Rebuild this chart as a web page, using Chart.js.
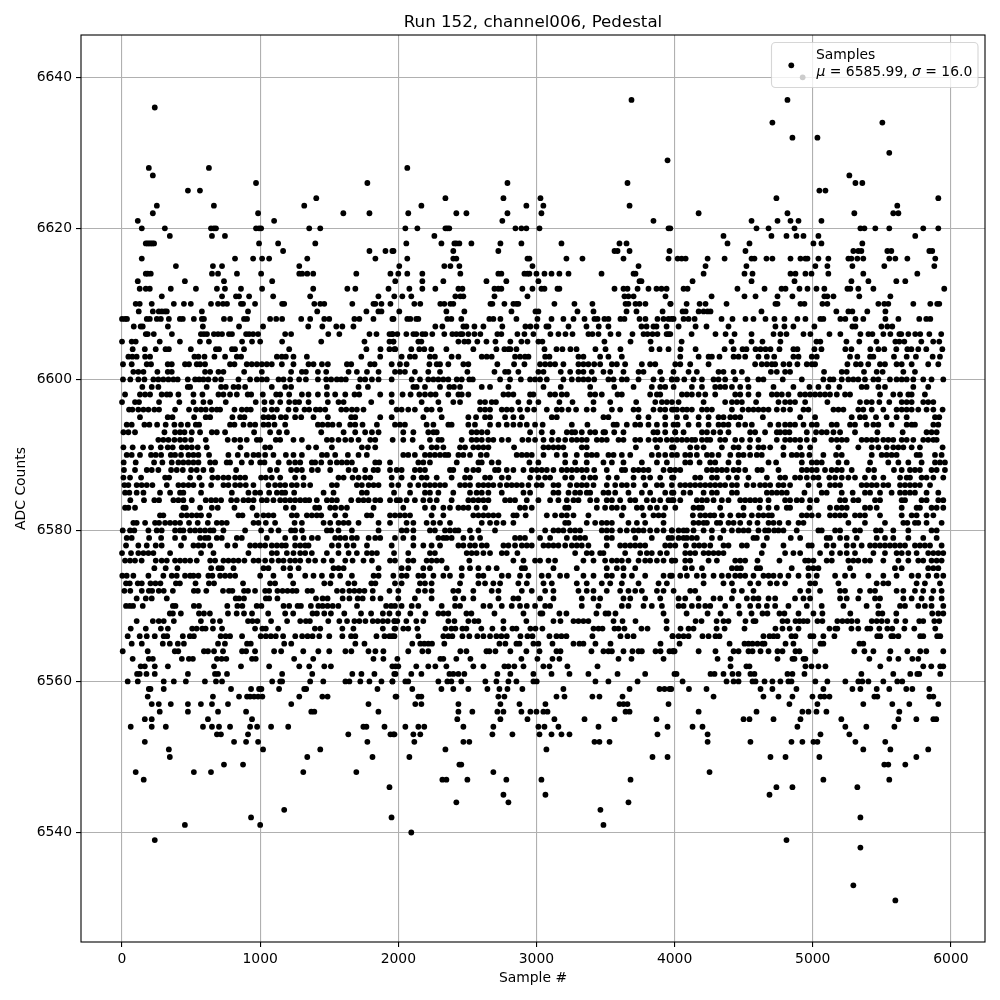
<!DOCTYPE html>
<html>
<head>
<meta charset="utf-8">
<title>Run 152, channel006, Pedestal</title>
<script src="https://cdn.jsdelivr.net/npm/chart.js@4"></script>
<style>
  html, body { margin: 0; padding: 0; background: #fff; }
  canvas { display: block; }
</style>
</head>
<body>
<canvas id="chart" width="1000" height="1000"></canvas>
<script>
const xTicks = [0, 1000, 2000, 3000, 4000, 5000, 6000];
const yTicks = [6540, 6560, 6580, 6600, 6620, 6640];

// each row of samples below belongs to the adc level at the same position
const adcLevels = [
  6640, 6637, 6636, 6634, 6632, 6630, 6629, 6628, 6627, 6626, 6625, 6624, 6623, 6622, 6621, 6620,
  6619, 6618, 6617, 6616, 6615, 6614, 6613, 6612, 6611, 6610, 6609, 6608, 6607, 6606, 6605, 6604,
  6603, 6602, 6601, 6600, 6599, 6598, 6597, 6596, 6595, 6594, 6593, 6592, 6591, 6590, 6589, 6588,
  6587, 6586, 6585, 6584, 6583, 6582, 6581, 6580, 6579, 6578, 6577, 6576, 6575, 6574, 6573, 6572,
  6571, 6570, 6569, 6568, 6567, 6566, 6565, 6564, 6563, 6562, 6561, 6560, 6559, 6558, 6557, 6556,
  6555, 6554, 6553, 6552, 6551, 6550, 6549, 6548, 6547, 6546, 6545, 6544, 6543, 6542, 6541, 6540,
  6539, 6538, 6533, 6531
];

const samplesAtLevel = [
  [4927],
  [3688,4817],
  [237],
  [4708,5504],
  [4853,5034],
  [5554],
  [3949],
  [194,629,2065],
  [223,5265],
  [970,1776,2790,3659,5309,5359],
  [477,564,5048,5092],
  [1406,2341,2761,3029,4737,5909],
  [252,665,1319,2167,2927,3050,3674,5612],
  [223,985,1602,1791,2072,2420,2493,2790,3036,4174,4817,5301,5583,5620],
  [114,1101,2753,3847,4557,4745,4839,4897,5063],
  [143,310,644,665,680,970,992,1007,1355,1435,2051,2138,2341,2355,2369,2848,2891,2927,3022,3956,3969,4593,4680,4868,5345,5374,5453,5554,5800,5909],
  [346,651,745,2261,4354,4701,4810,4882,4933,5041,5742],
  [172,184,196,208,220,232,992,1130,1399,2058,2312,2406,2420,2442,2529,2739,2891,3181,3601,3652,4383,4542,5005,5063,5359],
  [1166,1791,1907,1957,1965,2398,2724,3565,3587,3674,3963,4513,5294,5330,5352,5540,5569,5844,5865],
  [143,818,949,1014,1065,1341,1834,2065,2398,2420,2935,2949,3217,3333,3630,3956,4022,4051,4080,4239,4362,4557,4578,4665,4708,4839,4911,4947,4962,5041,5113,5258,5280,5323,5366,5554,5598,5685,5887],
  [390,658,724,1283,2007,2333,2377,2442,2971,3739,4224,4520,5019,5106,5287,5518,5880],
  [172,186,208,651,695,832,1007,1283,1304,1341,1384,1696,1943,2000,2065,2174,2449,2724,2746,2913,2935,2949,3000,3058,3109,3166,3232,3471,3703,3717,4210,4506,4564,4839,4875,4947,4991,5113,5366,5757],
  [114,455,738,1087,1978,2174,2326,2638,2782,3014,3746,3760,4130,4557,4868,5280,5403,5605,5670],
  [128,172,201,353,535,687,745,861,1014,1384,1631,1689,1929,2080,2174,2268,2435,2464,2696,2724,2746,2898,2971,3036,3058,3152,3166,3565,3630,3659,3732,3811,3869,3905,3942,4065,4094,4455,4651,4774,4803,4904,4962,5027,5084,5251,5272,5330,5439,5952],
  [288,724,825,847,920,1094,1362,1856,1971,2029,2094,2413,2449,2471,2696,2935,3637,3666,3703,3934,4268,4506,4586,4745,4853,5084,5106,5150,5337,5562],
  [99,128,215,375,448,498,644,695,731,760,861,876,963,1159,1174,1392,1435,1464,1667,1820,1834,1878,1943,2116,2159,2304,2333,2377,2398,2667,2681,2768,2833,2855,2869,3130,3275,3405,3645,3666,3717,3746,3789,3971,3969,4087,4181,4224,4376,4730,4745,4911,4940,5070,5106,5475,5518,5547,5728,5851,5901,5916],
  [121,223,266,288,310,324,578,912,1413,1769,1856,1878,2007,2348,2478,2819,2993,3014,3297,3413,3652,3724,3913,4058,4080,4174,4210,4239,4260,4629,5171,5258,5287,5395,5526],
  [0,22,36,179,201,252,281,339,419,440,520,578,593,738,782,883,905,1072,1116,1159,1297,1362,1464,1500,1682,1718,1820,1965,1957,2065,2087,2130,2145,2355,2384,2456,2659,2688,2739,2855,3007,3109,3195,3268,3348,3420,3442,3492,3521,3608,3637,3746,3789,3876,3920,3956,3978,3993,4065,4101,4145,4340,4419,4513,4571,4658,4723,4795,4889,4947,5055,5077,5200,5236,5309,5366,5526,5620,5771,5822,5851],
  [85,135,150,332,585,847,1021,1348,1450,1551,1595,1675,2268,2319,2471,2493,2551,2616,2753,2920,2956,3000,3072,3087,3232,3362,3451,3521,3760,3797,3847,3869,3942,4029,4152,4231,4390,4730,4795,4860,5012,5287,5309,5497,5540,5576],
  [172,186,230,361,571,593,615,665,695,724,774,796,898,920,949,985,1181,1224,1493,1573,1791,1842,1936,1958,1957,1993,2058,2109,2130,2174,2196,2246,2333,2391,2420,2449,2464,2507,2551,2594,2717,2746,2862,2913,2978,3101,3159,3210,3261,3376,3405,3449,3536,3594,3695,3775,3804,3840,3876,3942,3956,3969,4123,4296,4369,4434,4557,4716,4766,4810,4933,4983,5121,5200,5345,5403,5432,5511,5562,5627,5641,5692,5742,5778,5844,5930],
  [0,70,99,273,419,564,629,869,941,1000,1159,1442,1755,1936,1965,1964,2145,2167,2435,2478,2507,2572,2638,2703,2811,2891,2935,3014,3043,3492,3681,3826,4051,4412,4557,4636,4766,5027,5055,5244,5337,5461,5598,5627,5663,5786,5872,5916],
  [77,165,244,315,339,498,680,702,796,818,883,1210,1769,1871,1936,1972,1978,2094,2152,2188,2239,2348,2543,2710,2768,2797,2811,2855,3058,3145,3188,3246,3290,3427,3500,3608,3833,3891,3956,4043,4152,4362,4427,4492,4520,4586,4622,4658,4694,4759,4860,4889,5012,5063,5236,5280,5417,5475,5518,5605,5685,5714,5764,5822,5938],
  [46,75,106,167,203,524,553,597,669,746,831,862,1121,1157,1186,1241,1338,1732,1869,2024,2084,2120,2229,2265,2386,2435,2604,2640,2676,2845,2881,2917,2942,3063,3094,3304,3340,3461,3521,3618,4041,4174,4246,4270,4325,4427,4463,4511,4607,4668,4721,4860,4897,4993,5029,5270,5323,5415,5439,5588,5680,5747,5868,5921],
  [7,70,179,210,331,360,456,485,541,565,601,782,814,903,939,976,1012,1048,1084,1157,1241,1350,1386,1447,1490,1628,1659,1797,1828,1952,2012,2060,2225,2278,2302,2362,2471,2507,2717,2838,2913,3026,3063,3099,3135,3195,3304,3340,3376,3418,3461,3546,3582,3642,3763,3823,3860,4005,4041,4113,4246,4583,4631,4668,4704,4728,4788,4831,4889,4957,4993,5017,5251,5313,5347,5402,5487,5523,5607,5644,5716,5836,5909],
  [82,118,155,256,331,360,601,638,698,734,884,1012,1224,1302,1331,1418,1478,1640,1700,1773,1857,1976,2012,2048,2120,2217,2302,2500,2696,2773,2797,2869,3014,3051,3176,3244,3304,3340,3400,3485,3534,3630,3739,3775,3896,3992,4101,4161,4318,4354,4427,4487,4697,4740,4800,4836,5082,5210,5246,5371,5463,5506,5656,5740],
  [7,60,118,162,227,263,299,336,372,403,476,529,558,589,625,674,717,843,927,976,1012,1048,1133,1169,1217,1282,1331,1418,1478,1514,1555,1587,1620,1724,1760,1809,1857,1952,2097,2157,2217,2254,2290,2326,2362,2423,2459,2514,2539,2737,2809,2887,2954,2990,3026,3075,3195,3256,3304,3340,3376,3418,3521,3558,3618,3654,3739,3847,3908,3980,3981,4017,4070,4137,4198,4282,4318,4366,4439,4528,4607,4643,4783,4921,5077,5125,5150,5210,5258,5294,5330,5378,5439,5475,5559,5607,5644,5680,5728,5800,5860,5945],
  [147,215,263,476,493,613,717,751,807,843,891,1084,1181,1224,1483,1712,1780,2109,2133,2193,2302,2370,2403,2447,2604,2664,2797,3051,3176,3389,3563,3703,3835,3896,3932,3993,4125,4198,4294,4330,4366,4415,4475,4535,4716,4860,4976,5041,5113,5193,5354,5390,5475,5523,5728,5836],
  [22,130,167,203,287,324,348,408,517,582,698,734,782,831,910,935,1019,1116,1145,1210,1302,1350,1418,1483,1543,1616,1683,1717,1869,1952,2031,2089,2152,2193,2234,2270,2362,2435,2459,2507,2761,2797,2833,2954,2978,3099,3135,3183,3220,3389,3425,3473,3587,3618,3823,3872,3896,4053,4089,4125,4174,4222,4294,4439,4475,4535,4607,4704,4740,4776,4824,4909,4945,4981,5017,5053,5089,5125,5174,5234,5270,5487,5583,5632,5692,5716,5812],
  [0,94,123,268,415,517,589,638,751,968,1031,1084,1145,1210,1253,1282,1350,1490,1567,1604,1804,1952,2169,2290,2398,2447,2592,2628,2676,2707,2869,2949,3014,3166,3261,3413,3534,3722,3860,3908,3944,3981,4029,4210,4366,4415,4451,4487,4590,4752,4800,4836,4872,4945,5106,5342,5390,5427,5482,5554,5644,5680,5716,5800,5836,5873],
  [51,75,118,155,191,234,268,384,485,536,572,606,650,686,710,814,867,903,932,1031,1084,1121,1205,1258,1321,1355,1403,1434,1471,1587,1623,1664,1700,1748,1988,2024,2072,2120,2205,2241,2302,2592,2628,2664,2749,2785,2821,2881,2935,2983,3075,3147,3183,3232,3287,3364,3413,3546,3606,3703,3739,3847,3896,3932,3992,3981,4017,4058,4089,4125,4198,4234,4270,4415,4492,4535,4571,4607,4643,4680,4740,4788,4836,4933,4969,5150,5186,5222,5330,5366,5427,5511,5607,5644,5680,5716,5764,5824,5873,5940],
  [130,331,365,522,606,638,799,855,886,1024,1060,1096,1150,1186,1253,1297,1386,1490,1659,1688,1869,1952,2181,2314,2507,2563,2628,2664,2773,2833,2894,3111,3147,3485,3521,3739,3811,3932,4017,4082,4174,4246,4318,4354,4403,4439,4475,4639,4909,5017,5282,5342,5378,5458,5535,5607,5680,5885,5916],
  [34,70,162,198,254,316,379,427,476,534,558,782,814,879,927,964,1024,1060,1104,1181,1418,1451,1490,1524,1572,1652,1688,1741,1845,1976,2012,2048,2205,2254,2362,2386,2507,2555,2664,2725,2785,2833,2881,2930,2990,3045,3256,3369,3558,3582,3654,3715,3751,3811,3872,3932,3992,4022,4101,4174,4246,4318,4354,4390,4463,4511,4559,4692,4752,4800,4836,4872,4933,4993,5029,5137,5174,5270,5306,5390,5439,5475,5571,5680,5716,5740,5873,5909],
  [10,46,94,307,384,420,452,505,565,650,686,746,956,1072,1137,1193,1442,1604,1688,1760,1809,1857,2036,2109,2217,2254,2278,2531,2567,2604,2645,2954,3038,3116,3220,3256,3280,3328,3389,3425,3485,3497,3563,3630,3847,3876,3932,4004,4005,4065,4198,4234,4282,4330,4390,4547,4583,4655,4740,4764,4800,4831,4957,5024,5065,5101,5150,5198,5306,5468,5651,5824,5860,5897],
  [263,299,336,379,420,456,500,606,765,814,855,903,976,1000,1113,1145,1241,1302,1483,1519,1567,1616,1659,1712,1797,1833,1959,2036,2104,2229,2290,2314,2459,2531,2567,2604,2652,2688,2749,2797,2898,2942,2990,3051,3111,3159,3208,3256,3292,3328,3364,3437,3473,3509,3594,3630,3715,3751,3811,3860,3896,3944,3981,4017,4053,4089,4125,4149,4198,4234,4258,4330,4366,4439,4487,4547,4607,4740,4800,4836,4872,4909,4957,5012,5135,5174,5210,5246,5354,5390,5427,5463,5511,5547,5583,5644,5680,5728,5800,5836,5873,5897],
  [10,77,152,210,280,331,367,432,469,505,548,613,857,1036,1072,1350,1405,1519,1736,1780,1833,2169,2241,2278,2326,2447,2483,2543,2580,2616,2652,2838,3051,3087,3123,3159,3195,3328,3364,3720,3872,3980,3993,4113,4161,4210,4342,4427,4463,4542,4607,4643,4692,4788,4909,4981,5186,5330,5427,5475,5535,5583,5620,5656,5716,5776,5940],
  [34,70,130,210,244,283,353,384,427,481,517,553,630,770,838,903,952,988,1036,1096,1186,1241,1302,1447,1483,1543,1635,1712,1772,2036,2072,2120,2193,2229,2265,2302,2338,2362,2435,2471,2519,2597,2640,2857,2894,2930,2966,3051,3147,3208,3292,3364,3400,3437,3521,3558,3618,3679,3835,3884,3932,3981,4017,4077,4113,4161,4234,4270,4318,4403,4463,4499,4547,4595,4631,4788,4848,4884,4921,4976,5077,5169,5210,5427,5499,5535,5571,5607,5752,5776,5885,5933],
  [12,99,232,292,360,408,444,481,517,553,638,674,758,782,867,935,1000,1031,1133,1210,1253,1290,1374,1398,1442,1507,1555,1591,1628,1664,1833,1862,1940,2145,2181,2229,2423,2580,2604,2676,2725,2949,3014,3208,3280,3364,3485,3546,3630,3763,3872,3944,4077,4113,4181,4258,4294,4390,4463,4680,4735,4921,4993,5029,5065,5186,5246,5415,5547,5620,5692,5788,5885,5921,5957],
  [14,94,179,215,263,355,396,440,500,541,589,650,826,1072,1121,1224,1265,1302,1374,1418,1507,1640,1688,1760,1821,1852,1940,1988,2024,2120,2157,2193,2374,2398,2495,2543,2580,2700,2725,2785,2833,2906,2966,3002,3038,3075,3123,3183,3220,3256,3292,3328,3364,3418,3509,3618,3642,3703,3739,3775,3811,3920,3968,3969,4005,4041,4234,4270,4306,4342,4378,4427,4463,4511,4600,4631,4752,4921,4957,4993,5029,5089,5137,5174,5210,5282,5403,5444,5588,5644,5704,5740,5776,5860,5897,5957],
  [10,58,138,312,341,493,560,654,693,734,770,819,855,891,1007,1041,1084,1145,1253,1314,1567,1604,1669,1712,1760,1797,1952,2024,2109,2169,2205,2278,2386,2483,2519,2628,2664,2749,2797,2954,3014,3063,3099,3208,3256,3340,3389,3425,3521,3582,3703,3775,3823,3896,3992,3981,4149,4186,4270,4306,4390,4451,4535,4668,4764,4800,4872,4909,4957,5005,5041,5120,5162,5210,5258,5306,5378,5444,5511,5632,5680,5704,5788,5824,5873,5945],
  [17,46,106,142,179,220,324,408,444,481,517,577,645,734,770,819,855,896,951,1060,1108,1145,1181,1229,1265,1314,1362,1519,1555,1700,1736,1785,1821,1857,1952,2000,2085,2145,2193,2229,2265,2302,2338,2447,2483,2519,2580,2616,2652,2688,2737,2785,2821,2857,2894,2942,3002,3038,3123,3159,3244,3292,3328,3364,3413,3509,3570,3618,3654,3703,3787,3872,3908,3980,4041,4077,4113,4149,4186,4222,4258,4294,4330,4366,4415,4451,4523,4571,4619,4655,4692,4752,4788,4836,4969,5048,5125,5162,5198,5354,5390,5427,5463,5511,5547,5632,5668,5704,5740,5776,5849],
  [22,53,106,155,275,348,420,444,572,795,915,964,1000,1065,1121,1157,1181,1246,1459,1531,1736,1772,1969,2085,2193,2229,2290,2398,2519,2567,2604,2652,2749,2906,2954,3123,3159,3232,3280,3316,3364,3389,3485,3521,3570,3666,3763,3823,3932,3992,3981,4065,4113,4210,4270,4306,4415,4451,4668,4704,4740,4776,4812,4940,5065,5101,5210,5289,5378,5415,5487,5571,5632,5668,5704,5740,5824,5909],
  [60,159,234,268,372,408,444,505,606,645,679,717,790,831,879,915,952,1012,1048,1096,1145,1181,1217,1253,1290,1326,1355,1410,1483,1519,1555,1659,1712,1748,1785,1833,1869,1940,1988,2012,2060,2120,2181,2229,2278,2386,2507,2543,2580,2616,2652,2773,2809,2845,2930,3014,3099,3159,3220,3268,3304,3389,3437,3509,3546,3606,3679,3715,3799,3847,3896,3956,3992,3981,4041,4161,4198,4234,4282,4342,4390,4475,4511,4547,4583,4619,4680,4800,4836,4884,4921,4981,5029,5198,5234,5294,5330,5451,5487,5644,5668,5788,5824,5909,5945],
  [22,46,94,444,461,565,650,693,814,944,1186,1241,1398,1427,1507,1543,1587,1628,1821,2036,2193,2254,2326,2374,2435,2471,2507,2567,2628,2881,2917,2966,3208,3232,3437,3497,3546,3582,3630,3727,3763,3823,3872,3932,4005,4137,4174,4198,4330,4499,4615,4680,4740,4812,4836,4976,5125,5174,5210,5246,5378,5415,5463,5644,5752,5776,5860,5897,5945],
  [275,299,432,469,505,541,572,630,843,872,976,1024,1060,1096,1229,1265,1338,1374,1410,1442,1543,1616,1773,1804,1940,1976,2012,2048,2085,2241,2326,2543,2580,2616,2652,2688,2725,2833,2857,2922,3075,3135,3183,3220,3268,3376,3618,3775,3847,3884,3920,4132,4186,4222,4258,4287,4342,4403,4463,4499,4559,4607,4643,4680,4704,4921,4957,4993,5041,5125,5162,5198,5234,5306,5342,5378,5487,5644,5716,5752,5824,5873],
  [82,106,167,239,268,312,348,384,420,485,548,621,686,722,758,952,988,1041,1108,1249,1302,1459,1507,1567,1604,1640,1712,1857,1940,2060,2109,2205,2254,2302,2374,2604,2664,2712,2761,2833,3208,3232,3364,3425,3473,3509,3546,3666,3727,3787,3920,4137,4174,4210,4234,4306,4330,4390,4427,4475,4542,4600,4680,4716,4759,4824,4897,4933,5258,5378,5523,5656,5685,5740,5764,5824,5933],
  [5,58,89,191,251,287,384,420,444,493,529,565,601,638,662,734,891,1007,1079,1133,1224,1253,1302,1483,1514,1567,1664,1857,2024,2060,2109,2229,2265,2338,2374,2411,2435,2519,2580,2700,2966,3063,3123,3159,3195,3244,3280,3316,3473,3509,3546,3606,3654,3703,3739,3775,3823,3872,3920,3980,3981,4029,4065,4089,4137,4210,4270,4354,4415,4463,4499,4535,4607,4655,4680,4721,4752,4788,4884,5041,5065,5162,5198,5306,5342,5458,5492,5583,5692,5860,5897],
  [34,70,196,283,384,449,565,601,625,686,722,831,867,1048,1181,1253,1314,1374,1418,1543,1579,1616,1664,1700,1785,1833,1869,1976,2036,2109,2290,2326,2350,2386,2471,2531,2592,2845,2881,2917,3026,3099,3220,3280,3316,3352,3509,3546,3715,3835,3956,3981,4029,4065,4089,4125,4161,4270,4330,4571,4595,4668,4841,4909,5101,5125,5198,5246,5318,5463,5523,5583,5692,5800,5897],
  [29,118,179,244,287,427,517,553,589,638,763,819,927,964,1000,1036,1084,1121,1157,1186,1253,1290,1326,1350,1519,1567,1628,1676,1773,1952,2109,2181,2241,2302,2435,2471,2519,2555,2604,2640,2761,2797,2845,2894,2930,2966,3051,3087,3123,3159,3208,3256,3292,3328,3376,3509,3606,3642,3679,3715,3751,3787,3932,3968,4005,4082,4142,4178,4215,4258,4354,4390,4487,4523,4643,4788,4969,4993,5101,5150,5246,5294,5354,5415,5451,5487,5523,5559,5595,5632,5668,5740,5776,5812,5849,5933],
  [0,65,118,155,191,227,348,572,662,915,1084,1121,1193,1241,1290,1326,1374,1483,1567,1640,1700,1773,1809,1845,1969,2072,2229,2265,2495,2531,2567,2616,2664,2749,2785,2862,3280,3364,3400,3461,3485,3642,3751,3799,3835,3896,3944,4077,4113,4149,4210,4246,4282,4318,4354,4631,4800,4860,4909,5053,5138,5198,5246,5306,5439,5523,5607,5644,5692,5752,5836,5873,5909,5945],
  [22,58,94,142,244,287,324,384,420,456,493,541,638,674,734,770,807,843,886,952,988,1036,1084,1133,1169,1217,1253,1290,1350,1398,1459,1519,1616,1669,1748,1809,1940,1976,2072,2109,2205,2241,2278,2314,2514,2833,2906,2990,3026,3087,3135,3340,3413,3497,3546,3582,3618,3666,3739,3787,3823,3872,3920,3980,3981,4005,4077,4113,4246,4306,4439,4475,4511,4600,4759,4945,4969,5005,5101,5138,5258,5294,5330,5378,5415,5511,5620,5692,5764,5800,5860,5897,5933],
  [234,316,401,645,698,722,807,1024,1060,1169,1217,1278,1531,1567,1604,1857,2024,2072,2181,2229,2350,2459,2519,2580,2652,2712,2894,2917,3123,3292,3509,3582,3630,3715,4077,4125,4198,4415,4451,4480,4595,4619,4848,4969,5005,5041,5270,5595,5644,5836,5873,5909],
  [2,34,82,191,299,360,396,456,493,517,553,625,654,710,746,782,819,1000,1096,1217,1326,1386,1447,1519,1579,1664,1821,1857,1964,2024,2060,2145,2181,2254,2326,2374,2459,2580,2616,2749,2797,2881,2942,3038,3087,3171,3220,3340,3413,3509,3546,3630,3691,3787,3920,3968,3981,4041,4089,4161,4210,4282,4342,4390,4439,4475,4511,4571,4643,4680,4716,4764,4824,4897,4969,5029,5162,5234,5294,5403,5511,5607,5716,5764,5836,5897,5945],
  [29,56,114,143,206,242,278,390,419,532,629,666,876,1072,1108,1239,1464,1508,1638,1682,1805,1834,1976,2024,2157,2193,2241,2447,2580,2628,2688,2737,2869,2930,3051,3111,3292,3364,3473,3534,3618,3739,3884,3944,4210,4354,4415,4547,4607,4692,4740,4800,4981,5017,5186,5463,5511,5547,5752,5812,5921],
  [17,60,143,194,218,266,302,368,520,549,610,731,774,799,883,912,963,1036,1065,1125,1162,1198,1234,1263,1343,1375,1556,1597,1646,1682,1718,1755,1815,1936,2000,2145,2193,2241,2398,2435,2543,2676,2725,2894,2966,3063,3123,3304,3364,3413,3509,3606,3666,3715,3763,3872,3920,3993,4113,4149,4427,4487,4571,4909,4969,5053,5198,5234,5342,5415,5451,5607,5656,5740,5800,5873,5933],
  [106,172,215,324,823,847,883,1041,1065,1125,1404,1452,1488,1597,1646,1706,1742,1815,1871,2000,2120,2241,2411,2471,2543,2725,2833,2869,3026,3123,3328,3413,3461,3630,3679,3787,3896,4029,4077,4174,4282,4330,4415,4523,4571,4607,4680,4728,4872,4933,4981,5198,5246,5330,5451,5487,5656,5716,5788,5860,5933],
  [29,56,80,150,368,387,520,557,762,835,871,975,1009,1169,1210,1271,1295,1367,1421,1452,1488,1525,1566,1701,1912,1948,1976,2024,2097,2145,2314,2411,2447,2616,2664,2749,2821,2881,2930,2990,3063,3099,3328,3449,3618,3666,3775,3835,3908,4029,4065,4125,4174,4222,4258,4366,4463,4547,4607,4668,4728,4824,4957,5065,5222,5390,5475,5632,5668,5764,5812,5860,5945],
  [346,368,426,557,593,636,767,830,883,941,1058,1181,1239,1379,1411,1464,1512,1609,1730,1803,1888,1936,2000,2087,2196,2290,2326,2362,2493,2529,2696,2906,3029,3043,3166,3217,3434,3500,3521,3572,3920,4087,4239,4333,4470,4557,4636,4672,4759,4795,4897,5005,5070,5272,5475,5504,5605,5865,5909,5945],
  [106,223,266,302,375,571,658,709,912,944,980,1079,1195,1290,1331,1360,1493,1573,1629,1682,1718,1762,1815,1851,1888,1924,1972,1971,1993,2058,2130,2181,2362,2406,2507,2551,2580,2761,2927,3123,3174,3268,3304,3340,3376,3558,3623,3717,3942,4152,4195,4304,4354,4390,4513,4571,4586,4781,4817,4875,4904,4933,4962,5034,5070,5178,5215,5251,5282,5323,5427,5463,5499,5540,5605,5670,5771,5800,5880,5916],
  [63,172,281,332,508,540,581,605,658,724,963,1016,1041,1130,1396,1435,1595,1675,1888,1972,1978,2036,2072,2138,2341,2384,2413,2464,2493,2601,2681,2761,2826,2855,2956,2993,3043,3413,3449,3478,3565,3594,3637,3760,3804,3942,4043,4101,4137,4304,4362,4506,4730,4781,4833,4897,5121,5164,5178,5280,5330,5395,5417,5482,5540,5576,5663,5735,5887],
  [41,128,179,237,302,327,440,491,520,714,750,782,869,1004,1041,1077,1113,1166,1254,1304,1343,1379,1428,1500,1595,1658,1689,1842,1900,1936,1972,1957,2145,2326,2362,2391,2464,2514,2572,2616,2664,2710,2746,2785,2884,2935,2971,3094,3145,3181,3217,3405,3608,3659,3703,3985,3986,4029,4065,4101,4202,4246,4296,4325,4643,4687,4716,4745,4846,4875,4983,5005,5077,5157,5467,5489,5569,5583,5620,5778,5800,5901,5923],
  [70,143,295,346,404,448,695,745,905,932,1174,1225,1689,1755,2101,2159,2188,2217,2244,2333,2732,2775,2855,2877,2978,3014,3116,3268,3311,3340,3427,3536,3898,4036,4398,4506,4535,4564,4600,4636,4651,4803,4860,5056,5077,5338,5366],
  [5,186,382,407,593,622,666,731,869,898,963,1101,1152,1312,1421,1500,1617,1660,1784,1834,1892,2072,2174,2217,2449,2493,2638,2659,2703,2811,2927,3022,3145,3174,3398,3485,3521,3546,3630,3695,3739,3763,3862,3898,3963,3992,3986,4000,4174,4296,4427,4463,4535,4564,4622,4680,4745,4781,4875,4904,5019,5301,5374,5439,5562,5685,5778,5822,5945],
  [77,194,223,433,484,513,687,721,755,941,968,1246,1384,1820,1892,1993,2304,2326,2420,2522,2891,3007,3116,3166,3594,3688,3920,4311,4405,4745,4853,4868,4933,4947,5410,5554,5620,5721,5764],
  [135,165,237,332,666,861,1065,1283,1355,1464,1512,1980,1957,2000,2130,2217,2268,2348,2543,2616,2768,2797,2840,2906,3050,3094,3224,3442,4405,4520,4542,4947,4991,5041,5092,5489,5800,5858,5923,5945],
  [109,128,177,237,477,673,695,760,1159,1377,1667,1733,1827,1980,1971,2094,2167,2370,2398,2435,2478,2717,2811,2978,3109,3239,3376,3587,3787,3999,4014,4260,4289,4354,4419,4463,4549,4578,4817,4853,4940,5352,5583,5706,5757,5771,5923],
  [41,114,302,375,462,600,680,724,1087,1145,1159,1362,1457,1617,1646,1725,1791,1878,1958,1957,2051,2072,2290,2355,2384,2456,2630,2710,2797,2855,2978,3002,3427,3521,3732,4058,4376,4427,4463,4564,4586,4651,4708,4766,4824,4846,5019,5106,5236,5330,5359,5403,5511,5612,5648],
  [194,206,302,789,934,992,1009,1137,1319,1333,1849,2101,2312,2398,2507,2645,2732,2790,2898,3195,3674,3891,3927,3963,3976,4104,4231,4622,4708,4882,5077,5287,5345,5463,5554,5677,5721,5844],
  [186,658,847,905,927,956,985,1016,1283,1450,1488,1980,1986,2145,2167,2724,2768,3145,3203,3405,3456,3623,4282,4643,4752,4853,4998,5056,5084,5121,5446,5468,5844,5873],
  [215,266,353,477,571,651,767,1225,1784,2123,2167,2435,2739,2877,3065,3601,3630,3659,3956,4831,5034,5366,5576,5699,5909],
  [273,477,695,898,1370,1392,1856,2435,2536,2717,2761,2891,2956,3000,3050,3080,3645,3674,4174,4593,4925,4969,5027,5099,5627],
  [165,215,622,941,2427,2739,2935,3130,3348,3565,3869,4499,4542,4716,4911,5207,5620,5750,5873,5894],
  [63,215,317,586,651,702,782,927,978,1079,1203,1747,1769,1900,2051,2145,2188,2471,2688,3014,3058,3159,3449,3949,4130,4202,4889,5236,5388,5591],
  [687,716,912,1638,1943,1972,1964,2109,2159,2681,2826,3022,3109,3181,3239,3876,4239,5056,5265],
  [165,811,898,985,1776,2116,2471,2514,3420,3456,3529,4239,4549,4846,4925,5005,5034,5309,5525],
  [339,1021,1435,2341,3072,5366,5562,5836],
  [346,1341,1813,2080,3840,3949,4694,4803,5048,5750],
  [738,876,2442,2456,5518,5547,5670],
  [99,520,644,1312,1696,2688,4253],
  [157,2319,2348,2500,2782,3036,3681,5077,5554],
  [1936,4737,4853,5323],
  [2761,3065,4687],
  [2420,2797,3666],
  [1174,3463],
  [934,1951,5345],
  [455,1000,3485],
  [2094],
  [237,4810],
  [5345],
  [5294],
  [5598]
];

const points = [];
adcLevels.forEach(function(level, i) {
  samplesAtLevel[i].forEach(function(sample) {
    points.push({ x: sample, y: level });
  });
});

const fontFamily = "'DejaVu Sans'";

// axes frame on all four sides
const framePlugin = {
  id: 'frame',
  afterDatasetsDraw: function(chart) {
    const a = chart.chartArea;
    const ctx = chart.ctx;
    ctx.save();
    ctx.strokeStyle = '#000';
    ctx.lineWidth = 1.1;
    ctx.strokeRect(a.left, a.top, a.right - a.left, a.bottom - a.top);
    ctx.restore();
  }
};

// legend with the italic mu and sigma of the original
const legendPlugin = {
  id: 'samplesLegend',
  afterDraw: function(chart) {
    const ctx = chart.ctx;
    ctx.save();
    ctx.beginPath();
    ctx.roundRect(771.5, 42.5, 206.5, 45, 4);
    ctx.fillStyle = 'rgba(255,255,255,0.8)';
    ctx.fill();
    ctx.strokeStyle = 'rgba(204,204,204,0.8)';
    ctx.lineWidth = 1.1;
    ctx.stroke();

    ctx.beginPath();
    ctx.arc(791.3, 65.3, 2.9, 0, Math.PI * 2);
    ctx.fillStyle = '#000';
    ctx.fill();

    ctx.textBaseline = 'alphabetic';
    ctx.textAlign = 'left';
    ctx.font = '13.9px ' + fontFamily;
    ctx.fillText('Samples', 816, 58.5);

    const parts = [['\u03bc', true], [' = 6585.99, ', false], ['\u03c3', true], [' = 16.0', false]];
    let x = 816.5;
    parts.forEach(function(p) {
      ctx.font = (p[1] ? 'italic ' : '') + '13.9px ' + fontFamily;
      ctx.fillText(p[0], x, 76);
      x += ctx.measureText(p[0]).width;
    });
    ctx.restore();
  }
};

new Chart(document.getElementById('chart'), {
  type: 'scatter',
  data: {
    datasets: [{
      label: 'Samples',
      data: points,
      backgroundColor: '#000',
      borderWidth: 0,
      pointRadius: 2.9,
      showLine: false
    }]
  },
  plugins: [framePlugin, legendPlugin],
  options: {
    responsive: false,
    animation: false,
    layout: { padding: { right: 15 } },
    plugins: {
      legend: { display: false },
      tooltip: { enabled: false },
      title: {
        display: true,
        text: 'Run 152, channel006, Pedestal',
        fullSize: false,
        color: '#000',
        font: { family: fontFamily, size: 16.67, weight: 'normal', lineHeight: 1.2 },
        padding: { top: 13, bottom: 2 }
      }
    },
    scales: {
      x: {
        type: 'linear',
        min: -297,
        max: 6247,
        afterFit: function(s) { s.height = 58; },
        afterBuildTicks: function(s) { s.ticks = xTicks.map(function(v) { return { value: v }; }); },
        grid: { color: '#b0b0b0', lineWidth: 1.1, tickColor: '#000', tickLength: 5, drawTicks: true },
        border: { display: false },
        ticks: {
          color: '#000',
          padding: 4,
          maxRotation: 0,
          autoSkip: false,
          font: { family: fontFamily, size: 13.9 },
          callback: function(v) { return String(v); }
        },
        title: {
          display: true,
          text: 'Sample #',
          color: '#000',
          font: { family: fontFamily, size: 13.9 },
          padding: { top: 0, bottom: 13 }
        }
      },
      y: {
        type: 'linear',
        min: 6525.5,
        max: 6645.6,
        afterFit: function(s) { s.width = 81; },
        afterBuildTicks: function(s) { s.ticks = yTicks.map(function(v) { return { value: v }; }); },
        grid: { color: '#b0b0b0', lineWidth: 1.1, tickColor: '#000', tickLength: 5, drawTicks: true },
        border: { display: false },
        ticks: {
          color: '#000',
          padding: 4,
          autoSkip: false,
          font: { family: fontFamily, size: 13.9 },
          callback: function(v) { return String(v); }
        },
        title: {
          display: true,
          text: 'ADC Counts',
          color: '#000',
          font: { family: fontFamily, size: 13.9 },
          padding: { top: 13, bottom: 0 }
        }
      }
    }
  }
});
</script>
</body>
</html>
